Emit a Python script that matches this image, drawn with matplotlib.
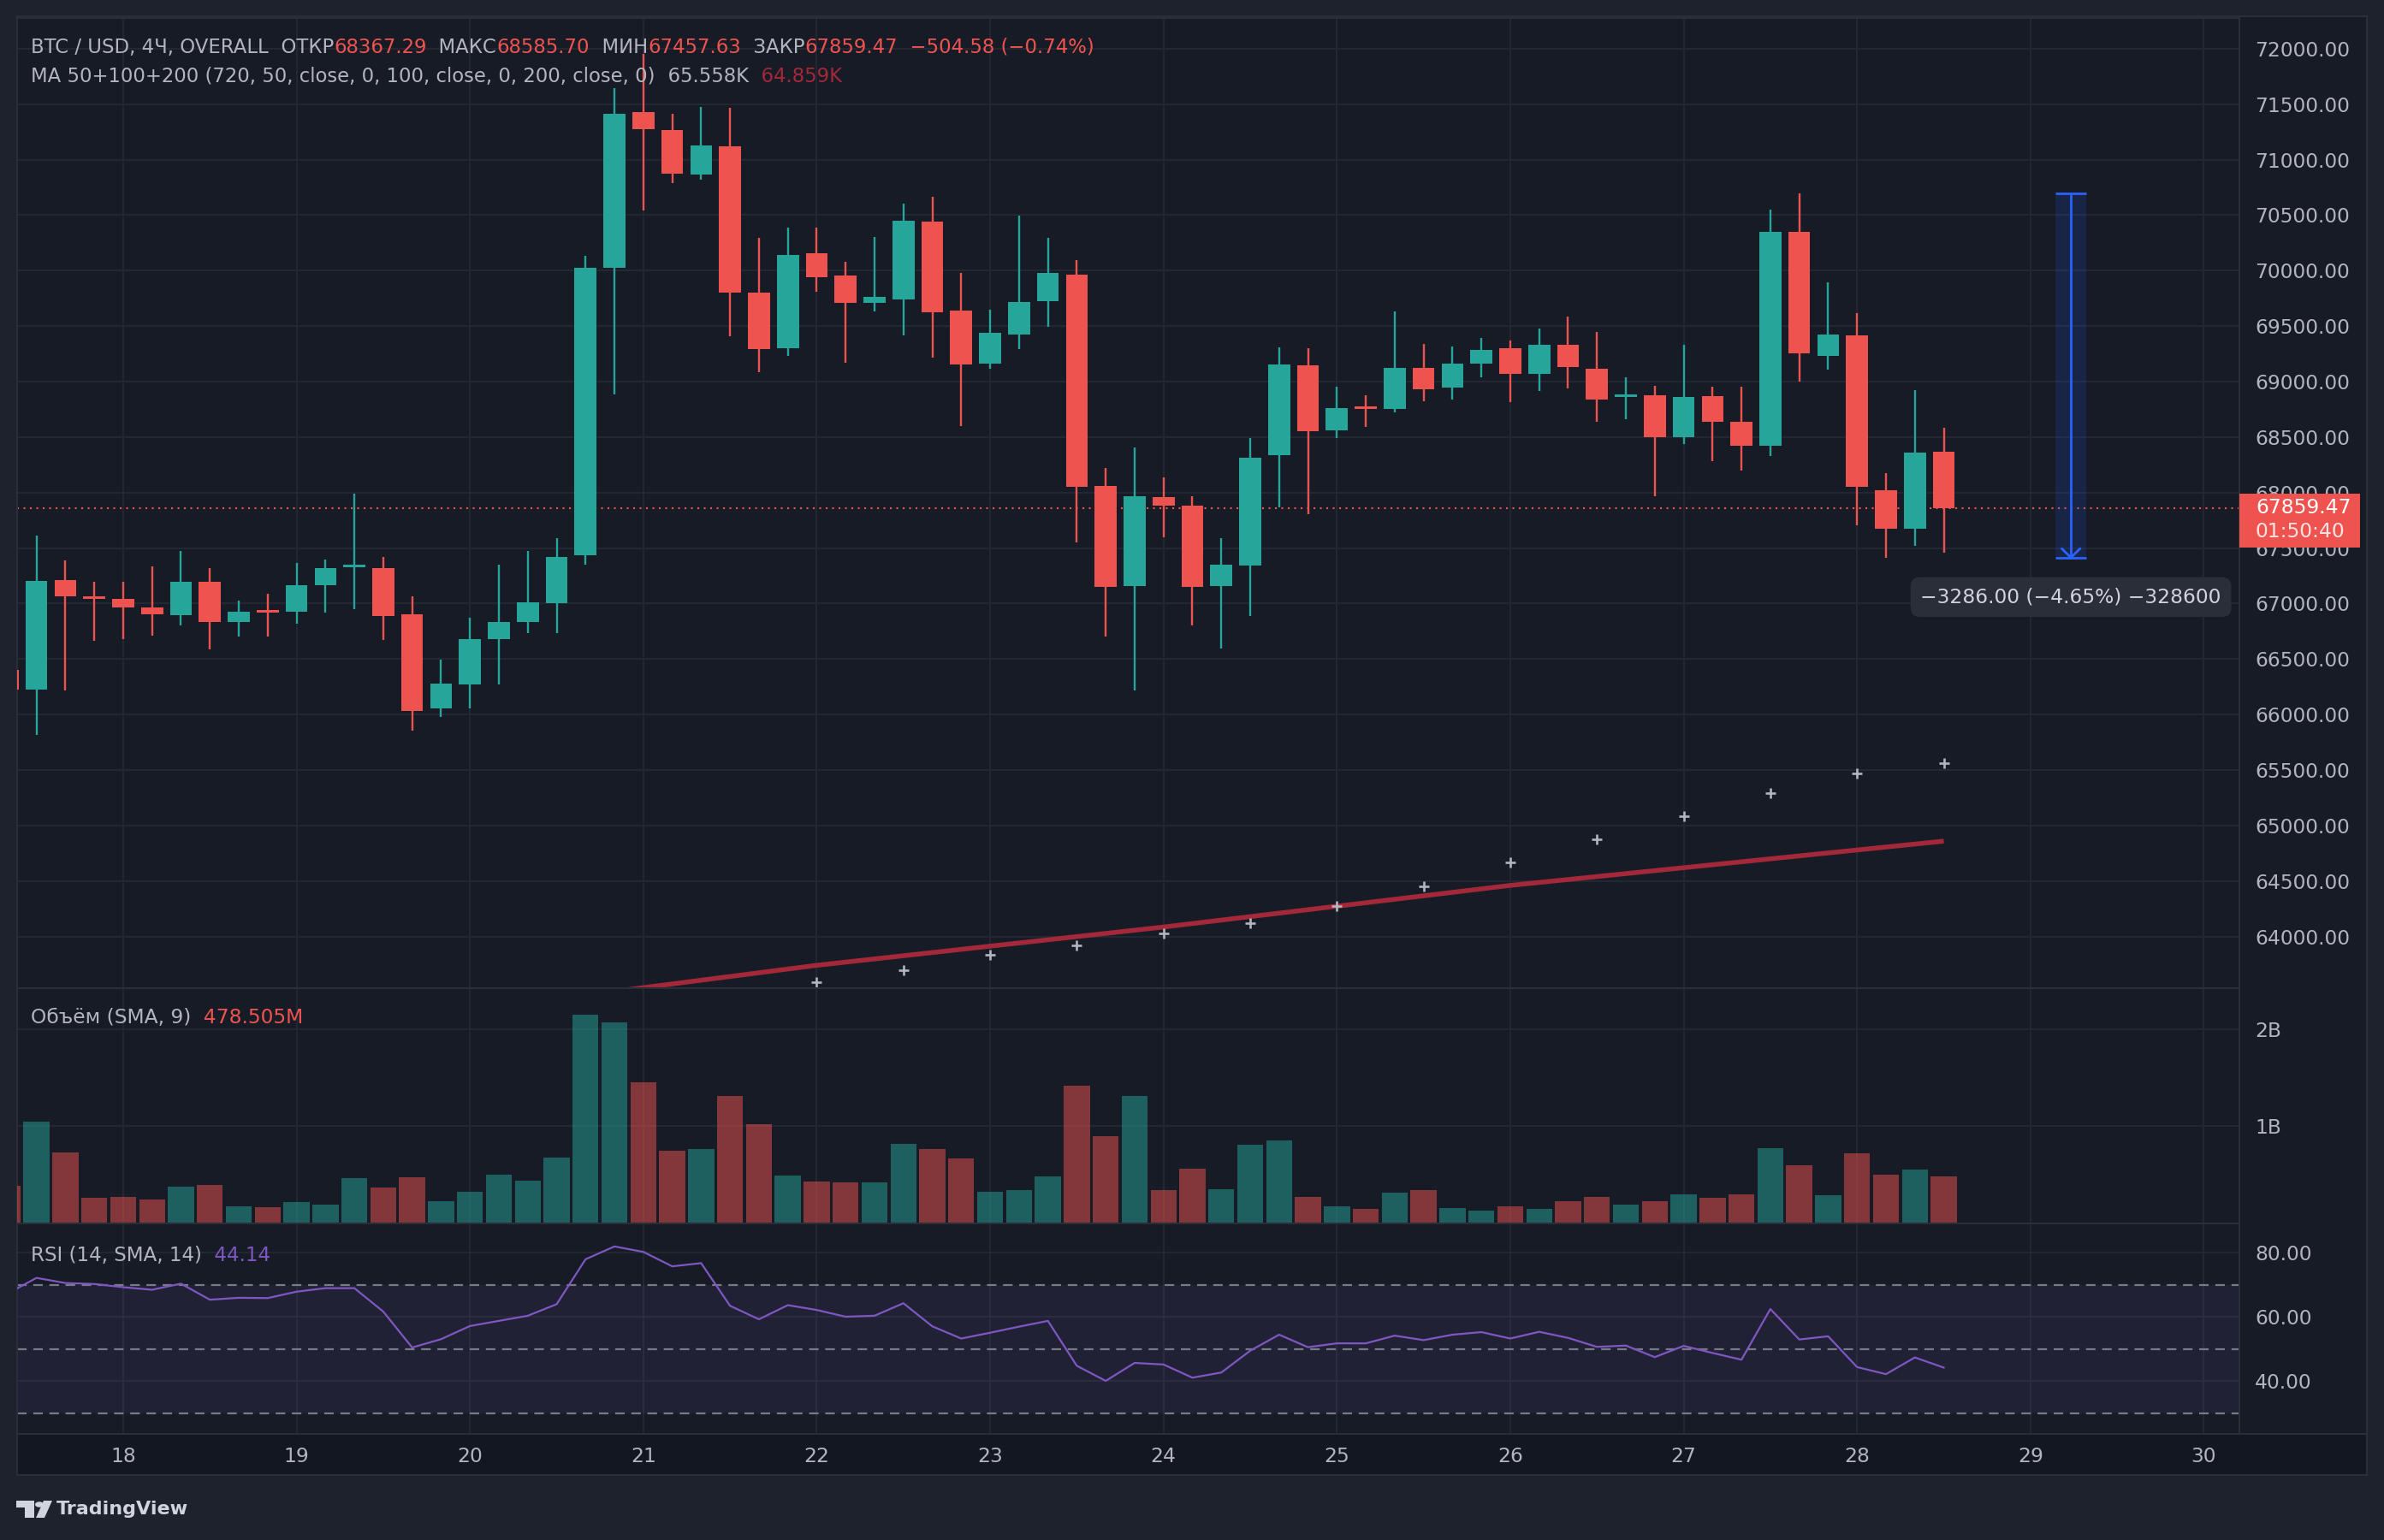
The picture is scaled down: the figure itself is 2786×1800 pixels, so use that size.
import numpy as np
import matplotlib
matplotlib.use("Agg")
import matplotlib.pyplot as plt
from matplotlib.patches import Rectangle, Circle, Polygon
import matplotlib.transforms as mtransforms

plt.rcParams['font.family'] = ['DejaVu Sans']

# ---- data (4H candles, index -1 .. 66, day 18 00:00 = index 3) ----
bar_idx = list(range(-1, 67))
opens = [66401, 66224, 67214, 67055, 67045, 66967, 66897, 67198, 66835, 66930,
         66926, 67165, 67330, 67322, 66905, 66054, 66269, 66678, 66835, 67004,
         67433, 70022, 71430, 71269, 70865, 71121, 69799, 69300, 70158, 69960,
         69708, 69737, 70444, 69642, 69159, 69428, 69725, 69964, 68057, 67157,
         67962, 67879, 67157, 67342, 68338, 69143, 68561, 68760, 68755, 69126,
         68945, 69159, 69304, 69068, 69329, 69118, 68860, 68878, 68503, 68866,
         68639, 68424, 70353, 69234, 69420, 68024, 67673, 68367.29]
highs = [66500, 67615, 67392, 67198, 67198, 67338, 67470, 67322, 67029, 67091,
         67363, 67400, 67987, 67417, 67062, 66492, 66876, 67347, 67470, 67586,
         70134, 71645, 71950, 71410, 71476, 71467, 70299, 70390, 70390, 70076,
         70307, 70604, 70666, 69981, 69651, 70497, 70299, 70097, 68218, 68404,
         68139, 67970, 67586, 68494, 69312, 69304, 68957, 68878, 69634, 69341,
         69320, 69395, 69374, 69481, 69589, 69448, 69035, 68965, 69329, 68957,
         68957, 70551, 70699.7, 69898, 69618, 68177, 68920, 68585.70]
lows = [66150, 65815, 66215, 66661, 66682, 66711, 66806, 66587, 66702, 66702,
        66818, 66917, 66950, 66674, 65856, 65980, 66054, 66269, 66731, 66731,
        67351, 68883, 70542, 70790, 70823, 69407, 69085, 69229, 69808, 69167,
        69630, 69415, 69217, 68598, 69114, 69296, 69494, 67549, 66702, 66215,
        67598, 66802, 66595, 66888, 67867, 67805, 68490, 68589, 68722, 68821,
        68841, 69040, 68812, 68916, 68936, 68639, 68664, 67970, 68441, 68280,
        68201, 68333, 69002, 69110, 67702, 67413.7, 67520, 67457.63]
closes = [66228, 67206, 67066, 67045, 66963, 66905, 67198, 66835, 66930, 66922,
          67169, 67322, 67335, 66884, 66034, 66281, 66682, 66830, 67008, 67421,
          70022, 71414, 71273, 70873, 71129, 69799, 69291, 70142, 69940, 69708,
          69766, 70452, 69622, 69155, 69436, 69721, 69981, 68053, 67148, 67970,
          67879, 67148, 67347, 68317, 69155, 68552, 68763, 68755, 69126, 68928,
          69163, 69287, 69068, 69333, 69130, 68837, 68870, 68503, 68858, 68639,
          68424, 70353, 69258, 69428, 68053, 67673, 68362, 67859.47]
volume_b = [0.39, 1.05, 0.727, 0.264, 0.275, 0.25, 0.378, 0.396, 0.18, 0.169,
            0.22, 0.194, 0.466, 0.371, 0.473, 0.231, 0.327, 0.499, 0.44, 0.675,
            2.147, 2.07, 1.45, 0.745, 0.763, 1.31, 1.017, 0.492, 0.428, 0.42,
            0.419, 0.82, 0.767, 0.672, 0.323, 0.34, 0.48, 1.42, 0.898, 1.308,
            0.34, 0.567, 0.349, 0.811, 0.855, 0.27, 0.174, 0.148, 0.314, 0.34,
            0.157, 0.131, 0.174, 0.148, 0.227, 0.27, 0.192, 0.227, 0.297, 0.262,
            0.297, 0.776, 0.602, 0.288, 0.724, 0.506, 0.558, 0.488]
rsi = [67.2, 72.1, 70.5, 70.2, 69.2, 68.4, 70.3, 65.3, 65.9, 65.8,
       67.8, 68.9, 68.9, 61.6, 50.4, 53.0, 57.1, 58.7, 60.3, 63.9,
       77.9, 81.9, 80.2, 75.7, 76.7, 63.4, 59.2, 63.6, 62.1, 60.0,
       60.3, 64.2, 57.0, 53.2, 55.0, 56.9, 58.7, 44.7, 40.0, 45.6,
       45.1, 41.0, 42.6, 49.4, 54.4, 50.5, 51.7, 51.7, 54.1, 52.7,
       54.4, 55.2, 53.2, 55.3, 53.4, 50.6, 51.0, 47.4, 50.9, 48.7,
       46.6, 62.4, 52.9, 53.9, 44.3, 42.1, 47.3, 44.14]

ma50_idx = [27, 30, 33, 36, 39, 42, 45, 48, 51, 54, 57, 60, 63, 66]
ma50_val = [63589, 63699, 63836, 63918, 64027, 64123, 64274, 64452, 64671,
            64877, 65082, 65288, 65466, 65558]
ma200_idx = [20, 27, 39, 51, 66]
ma200_val = [63505, 63740, 64085, 64460, 64859]

day_labels = ['18', '19', '20', '21', '22', '23', '24', '25', '26', '27', '28', '29', '30']
day_idx = [3 + 6 * k for k in range(len(day_labels))]

price_ticks = list(range(64000, 72001, 500))
vol_ticks = [1, 2]
vol_labels = ['1B', '2B']
rsi_ticks = [40, 60, 80]

meas_top = 70699.7
meas_bot = 67413.7
meas_x = 70.4

# ---- style ----
BG = '#171b26'
FRAME = '#1e222d'
GRID = '#252934'
BORDER = '#2a2e39'
TXT = '#b2b5be'
GREEN = '#26a69a'
RED = '#ef5350'
MA200_C = '#a3283a'
PURPLE = '#7e57c2'
FS = 16.4
AXFS = 16.8

W, H = 2786, 1800
fig = plt.figure(figsize=(W / 100, H / 100), dpi=100)
fig.patch.set_facecolor(FRAME)

fig.add_artist(Rectangle((20 / W, 1 - 1724 / H), 2746 / W, 1705 / H,
                         transform=fig.transFigure, facecolor=BG,
                         edgecolor=BORDER, lw=1.5, zorder=0))
fig.add_artist(Rectangle((20 / W, 1 - 1724 / H), 2746 / W, 48 / H,
                         transform=fig.transFigure, facecolor='#131722',
                         edgecolor=BORDER, lw=1.5, zorder=0))


def make_ax(top, bottom):
    ax = fig.add_axes([20 / W, 1 - bottom / H, 2597 / W, (bottom - top) / H])
    ax.set_facecolor('none')
    ax.set_xlim(-0.67, 76.23)
    ax.set_axisbelow(True)
    for s in ax.spines.values():
        s.set_color(BORDER)
        s.set_linewidth(1.5)
    ax.yaxis.tick_right()
    ax.tick_params(axis='y', length=0, pad=13, labelcolor=TXT, labelsize=AXFS)
    ax.tick_params(axis='x', length=0, labelbottom=False)
    ax.set_xticks(day_idx)
    ax.grid(True, color=GRID, lw=1.3)
    return ax


ax = make_ax(21, 1155)
axv = make_ax(1155, 1430)
axr = make_ax(1430, 1676)

x = np.array(bar_idx, dtype=float)
o = np.array(opens)
h = np.array(highs)
l = np.array(lows)
c = np.array(closes)
up = c >= o
cols = np.where(up, GREEN, RED)

# ---- price pane ----
ax.set_ylim(63534, 72277)
ax.set_yticks(price_ticks)
ax.set_yticklabels([f'{p:.2f}' for p in price_ticks])

ax.vlines(x, l, h, colors=cols, lw=1.7, zorder=3)
body_lo = np.minimum(o, c)
body_h = np.maximum(np.abs(c - o), 22)
ax.bar(x, body_h, bottom=body_lo, width=0.76, color=cols, lw=0, zorder=4)

ax.plot(ma200_idx, ma200_val, color=MA200_C, lw=4, zorder=3, solid_capstyle='butt')
ax.plot(ma50_idx, ma50_val, ls='none', marker='+', ms=8.5, mew=1.9, color=TXT, zorder=3)

last = closes[-1]
ax.axhline(last, color=RED, lw=1.5, ls=(0, (1, 2.6)), zorder=2)

# measure tool
ax.add_patch(Rectangle((meas_x - 0.53, meas_bot), 1.06, meas_top - meas_bot,
                       facecolor='#2962ff', alpha=0.15, lw=0, zorder=5))
ax.hlines([meas_top, meas_bot], meas_x - 0.53, meas_x + 0.53, color='#2962ff', lw=2, zorder=6)
ax.vlines(meas_x, meas_bot, meas_top, color='#2962ff', lw=2, zorder=6)
ax.plot([meas_x - 0.31, meas_x, meas_x + 0.31], [meas_bot + 80, meas_bot, meas_bot + 80],
        color='#2962ff', lw=2, zorder=6)
diff = meas_bot - meas_top
ax.text(meas_x, meas_bot - 355,
        f'\u2212{abs(diff):.2f} (\u2212{abs(diff) / meas_top * 100:.2f}%) \u2212{abs(diff) * 100:.0f}',
        ha='center', va='center', color='#d1d4dc', fontsize=AXFS, zorder=7,
        bbox=dict(boxstyle='round,pad=0.5,rounding_size=0.45', fc='#2a2e39', ec='none'))

# last price badge on the axis
tr = mtransforms.blended_transform_factory(ax.transAxes, ax.transData)
ax.add_patch(Rectangle((1.0, last - 355), 0.0543, 485, transform=tr, clip_on=False,
                       facecolor=RED, lw=0, zorder=8))
ax.text(1.0073, last, f'{last:.2f}', transform=tr, clip_on=False, color='white',
        fontsize=AXFS, va='center', ha='left', zorder=9)
ax.text(1.0073, last - 215, '01:50:40', transform=tr, clip_on=False, color='white',
        alpha=0.85, fontsize=AXFS, va='center', ha='left', zorder=9)


def seq_text(axis, x0, y0, parts, size=FS):
    t = axis.text(x0, y0, parts[0][0], color=parts[0][1], fontsize=size,
                  transform=axis.transAxes, ha='left', va='center', zorder=10)
    for s, col in parts[1:]:
        t = axis.annotate(s, xy=(1, 0), xycoords=t, ha='left', va='bottom',
                          color=col, fontsize=size, zorder=10, annotation_clip=False)


seq_text(ax, 0.0062, 0.970, [
    ('BTC / USD, 4Ч, OVERALL', TXT), ('  ОТКР', TXT), ('68367.29', RED),
    ('  МАКС', TXT), ('68585.70', RED), ('  МИН', TXT), ('67457.63', RED),
    ('  ЗАКР', TXT), ('67859.47', RED), ('  \u2212504.58 (\u22120.74%)', RED)])
seq_text(ax, 0.0062, 0.940, [
    ('MA 50+100+200 (720, 50, close, 0, 100, close, 0, 200, close, 0)', TXT),
    ('  65.558K', TXT), ('  64.859K', MA200_C)])

# ---- volume pane ----
axv.set_ylim(0, 2.42)
axv.set_yticks(vol_ticks)
axv.set_yticklabels(vol_labels)
axv.bar(x, volume_b, width=0.9, color=cols, alpha=0.5, lw=0, zorder=3)
seq_text(axv, 0.0062, 0.873, [('Объём (SMA, 9)', TXT), ('  478.505M', RED)], size=16.8)

# ---- RSI pane ----
axr.set_ylim(23.47, 89.07)
axr.set_yticks(rsi_ticks)
axr.set_yticklabels([f'{v:.2f}' for v in rsi_ticks])
axr.axhspan(30, 70, color=PURPLE, alpha=0.1, lw=0, zorder=1)
for lvl in (30, 50, 70):
    axr.axhline(lvl, color='#787b86', lw=1.6, ls=(0, (5, 3.5)), zorder=2)
axr.plot(x, rsi, color=PURPLE, lw=1.6, zorder=4)
seq_text(axr, 0.0062, 0.846, [('RSI (14, SMA, 14)', TXT), ('  44.14', PURPLE)], size=16.6)

axr.set_xticklabels(day_labels)
axr.tick_params(axis='x', labelbottom=True, labelcolor=TXT, labelsize=AXFS, pad=11)

# ---- TradingView logo ----
LOGO = '#d1d4dc'
for xy, w_, h_ in [((19, 1762), 21, 8), ((29, 1774), 11, 20)]:
    fig.add_artist(Rectangle((xy[0] / W, 1 - xy[1] / H), w_ / W, h_ / H,
                             transform=fig.transFigure, facecolor=LOGO, lw=0))
fig.add_artist(Circle((46 / W, 1 - 1758.5 / H), 5 / W, transform=fig.transFigure,
                      facecolor=LOGO, lw=0))
fig.add_artist(Polygon([(42 / W, 1 - 1774 / H), (52 / W, 1 - 1774 / H),
                        (61 / W, 1 - 1754 / H), (51 / W, 1 - 1754 / H)],
                       transform=fig.transFigure, facecolor=LOGO, lw=0))
fig.text(66 / W, 1 - 1764 / H, 'TradingView', color=LOGO, fontsize=16,
         fontweight='bold', va='center', ha='left')

fig.savefig('out.png', dpi=100, facecolor=fig.get_facecolor())
